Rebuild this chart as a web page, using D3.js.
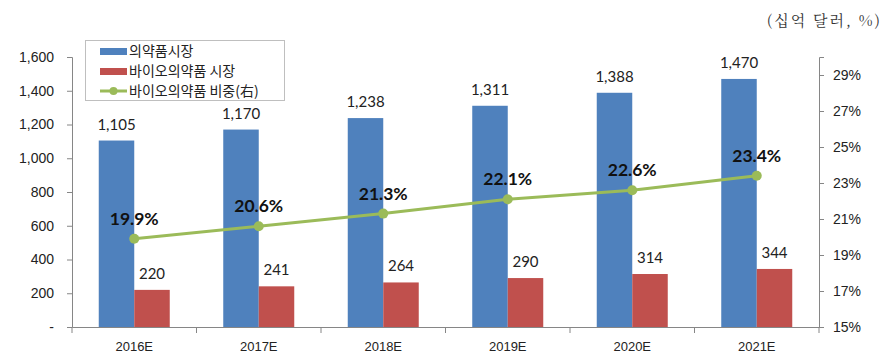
<!DOCTYPE html>
<html>
<head>
<meta charset="utf-8">
<script src="https://cdn.jsdelivr.net/npm/d3@7"></script>
<style>
  body { margin: 0; background: #fff; }
  svg { display: block; font-family: Lato, "Noto Sans", sans-serif; }
</style>
</head>
<body>
<svg id="chart" width="893" height="362"></svg>
<script>
const years = ["2016E", "2017E", "2018E", "2019E", "2020E", "2021E"];
const pharmaMarket = [1105, 1170, 1238, 1311, 1388, 1470];
const bioMarket = [220, 241, 264, 290, 314, 344];
const bioShare = [19.9, 20.6, 21.3, 22.1, 22.6, 23.4];
const leftTicks = [0, 200, 400, 600, 800, 1000, 1200, 1400, 1600];
const rightTicks = [15, 17, 19, 21, 23, 25, 27, 29];
const seriesNames = ["의약품시장", "바이오의약품 시장", "바이오의약품 비중(右)"];

const BLUE = "#4F81BD", RED = "#C0504D", GREEN = "#9BBB59", AXIS = "#868686";
const krFont = "'Noto Sans CJK KR', sans-serif";

const svg = d3.select("#chart");
const plotL = 72, plotR = 819, plotT = 57, plotB = 327;

const x = d3.scaleBand().domain(years).range([plotL, plotR]);
const y = d3.scaleLinear().domain([0, 1600]).range([plotB, plotT]);
const y2 = d3.scaleLinear().domain([15, 30]).range([plotB, plotT]);
const barW = 35.5;

// unit label
svg.append("text")
  .attr("x", 882).attr("y", 26)
  .attr("text-anchor", "end")
  .attr("font-family", "'Noto Serif CJK KR', 'Noto Sans CJK KR', serif")
  .attr("font-size", 15).attr("fill", "#333")
  .attr("letter-spacing", 2)
  .text("(십억 달러, %)");

// left axis
const yAxis = svg.append("g").attr("transform", `translate(${plotL},0)`)
  .call(d3.axisLeft(y).tickValues(leftTicks).tickSize(5).tickPadding(13)
    .tickFormat(d => d === 0 ? "-" : d3.format(",")(d)));
// right axis
const y2Axis = svg.append("g").attr("transform", `translate(${plotR},0)`)
  .call(d3.axisRight(y2).tickValues(rightTicks).tickSize(5).tickPadding(9)
    .tickFormat(d => d + "%"));
// bottom axis
const xAxis = svg.append("g").attr("transform", `translate(0,${plotB})`)
  .call(d3.axisBottom(x).tickSize(0).tickPadding(15));
svg.append("g").selectAll("line")
  .data(years.concat([null]))
  .join("line")
  .attr("x1", (d, i) => plotL + i * x.bandwidth())
  .attr("x2", (d, i) => plotL + i * x.bandwidth())
  .attr("y1", plotB).attr("y2", plotB + 6)
  .attr("stroke", AXIS);

[yAxis, y2Axis, xAxis].forEach(a => {
  a.select(".domain").attr("stroke", AXIS);
  a.selectAll(".tick line").attr("stroke", AXIS);
  a.selectAll("text").attr("font-size", 14).attr("fill", "#222");
});
xAxis.selectAll("text").attr("font-size", 13).attr("font-weight", 500);

// bars
const bars = svg.append("g");
bars.selectAll("rect.pharma").data(pharmaMarket).join("rect")
  .attr("class", "pharma")
  .attr("x", (d, i) => x(years[i]) + x.bandwidth() / 2 - barW)
  .attr("y", d => y(d)).attr("width", barW).attr("height", d => plotB - y(d))
  .attr("fill", BLUE);
bars.selectAll("rect.bio").data(bioMarket).join("rect")
  .attr("class", "bio")
  .attr("x", (d, i) => x(years[i]) + x.bandwidth() / 2)
  .attr("y", d => y(d)).attr("width", barW).attr("height", d => plotB - y(d))
  .attr("fill", RED);

bars.selectAll("text.pharma").data(pharmaMarket).join("text")
  .attr("class", "pharma")
  .attr("x", (d, i) => x(years[i]) + x.bandwidth() / 2 - barW / 2)
  .attr("y", d => y(d) - 11)
  .attr("text-anchor", "middle").attr("font-size", 15).attr("fill", "#222")
  .text(d => d3.format(",")(d));
bars.selectAll("text.bio").data(bioMarket).join("text")
  .attr("class", "bio")
  .attr("x", (d, i) => x(years[i]) + x.bandwidth() / 2 + barW / 2)
  .attr("y", d => y(d) - 11)
  .attr("text-anchor", "middle").attr("font-size", 15).attr("fill", "#222")
  .text(d => d3.format(",")(d));

// share line
const cx = (d, i) => x(years[i]) + x.bandwidth() / 2;
const line = d3.line().x(cx).y(d => y2(d));
svg.append("path").datum(bioShare)
  .attr("d", line).attr("fill", "none")
  .attr("stroke", GREEN).attr("stroke-width", 3);
svg.append("g").selectAll("circle").data(bioShare).join("circle")
  .attr("cx", cx).attr("cy", d => y2(d)).attr("r", 5)
  .attr("fill", GREEN);
svg.append("g").selectAll("text").data(bioShare).join("text")
  .attr("x", cx).attr("y", d => y2(d) - 14)
  .attr("text-anchor", "middle").attr("font-size", 17.5).attr("font-weight", "bold")
  .attr("fill", "#111")
  .text(d => d.toFixed(1) + "%");

// legend
const lg = svg.append("g");
lg.append("rect").attr("x", 85.5).attr("y", 40.5).attr("width", 199).attr("height", 60)
  .attr("fill", "#fff").attr("stroke", "#bfbfbf");
seriesNames.forEach((name, i) => {
  const ly = 51 + i * 20;
  if (i < 2) {
    lg.append("rect").attr("x", 100).attr("y", ly - 3).attr("width", 27).attr("height", 7)
      .attr("fill", i === 0 ? BLUE : RED);
  } else {
    lg.append("line").attr("x1", 100).attr("x2", 127).attr("y1", ly).attr("y2", ly)
      .attr("stroke", GREEN).attr("stroke-width", 3);
    lg.append("circle").attr("cx", 113.5).attr("cy", ly).attr("r", 4).attr("fill", GREEN);
  }
  lg.append("text").attr("x", 129).attr("y", ly + 5)
    .attr("font-family", krFont).attr("font-size", 14).attr("fill", "#222")
    .text(name);
});
</script>
</body>
</html>
